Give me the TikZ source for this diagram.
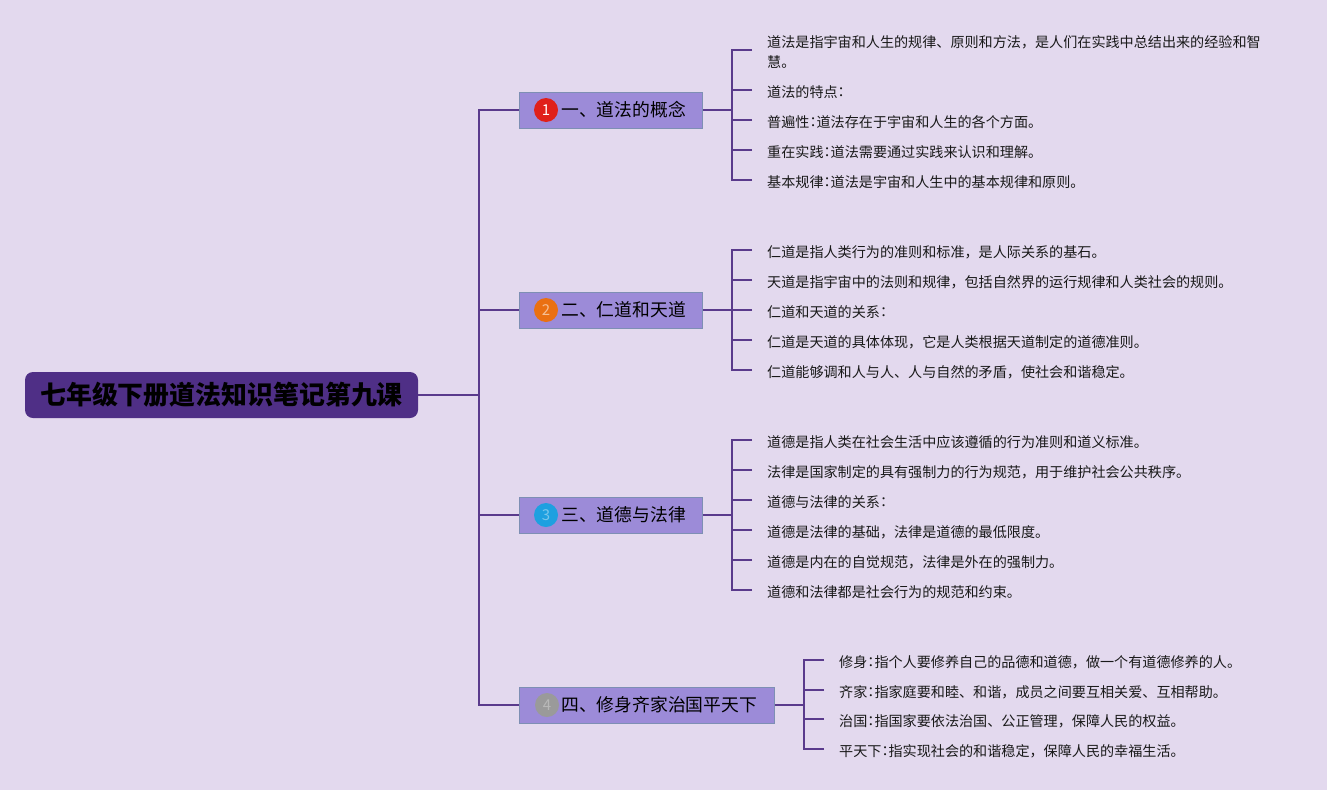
\documentclass[tikz,border=0pt]{standalone}
\usepackage{fontspec}
\setmainfont{Noto Sans CJK SC}
\newfontfamily\tcfont{Noto Sans CJK TC}
\newcommand{\cln}{\kern-3.5pt{\tcfont ：}\kern-3.5pt}
\definecolor{bg}{HTML}{E3D9EE}
\definecolor{ln}{HTML}{5A3A8C}
\definecolor{rootc}{HTML}{4F2F86}
\definecolor{brf}{HTML}{9C8BD8}
\definecolor{brd}{HTML}{7E8FB4}
\definecolor{c1}{HTML}{E0201A}
\definecolor{c2}{HTML}{EA7012}
\definecolor{c3}{HTML}{1EA0E0}
\definecolor{c4}{HTML}{9A9A9A}
\tikzset{
  conn/.style={draw=ln, line width=1.8pt},
  rootbox/.style={fill=rootc, rounded corners=8pt, minimum width=393pt, minimum height=46pt, inner sep=0pt, font=\fontsize{25.9}{30}\selectfont\bfseries, text=black},
  branchbox/.style={fill=brf, draw=brd, line width=0.9pt, minimum height=36pt, inner sep=0pt, anchor=west},
  brtext/.style={anchor=west, inner sep=0pt, font=\fontsize{17.8}{21}\selectfont, text=black},
  numc/.style={circle, minimum size=24pt, inner sep=0pt, font=\fontsize{15}{15}\selectfont},
  leaf/.style={anchor=west, inner sep=0pt, font=\fontsize{14.1}{20}\selectfont, text=black!90, align=left},
}
\begin{document}
\begin{tikzpicture}[x=1pt,y=-1pt]
\fill[bg] (0,0) rectangle (1327,790);
\useasboundingbox (0,0) rectangle (1327,790);

% root
\node[rootbox] (root) at (221.5,395) {七年级下册道法知识笔记第九课};

% branches
\node[branchbox, minimum width=183pt] (b1) at (519,110) {};
\node[branchbox, minimum width=183pt] (b2) at (519,310) {};
\node[branchbox, minimum width=183pt] (b3) at (519,515) {};
\node[branchbox, minimum width=255pt] (b4) at (519,705) {};

\node[numc, fill=c1, text=white] (n1) at (546,110) {1};
\node[numc, fill=c2, text=c2!45!white] (n2) at (546,310) {2};
\node[numc, fill=c3, text=c3!60!white] (n3) at (546,515) {3};
\node[numc, fill=c4, text=c4!70!white] (n4) at (547,705) {4};

\node[brtext] (t1) at (561,110) {一、道法的概念};
\node[brtext] (t2) at (561,310) {二、仁道和天道};
\node[brtext] (t3) at (561,515) {三、道德与法律};
\node[brtext] (t4) at (561,705) {四、修身齐家治国平天下};

% trunk
\coordinate (trunk) at (479,395);
\draw[conn] (root.east) -- (trunk);
\draw[conn] (b1.west) -| (trunk);
\draw[conn] (b4.west) -| (trunk);
\draw[conn] (b2.west) -- (b2.west -| trunk);
\draw[conn] (b3.west) -- (b3.west -| trunk);

% junctions
\coordinate (j1) at (732,110);
\coordinate (j2) at (732,310);
\coordinate (j3) at (732,515);
\coordinate (j4) at (804,705);
\draw[conn] (b1.east) -- (j1);
\draw[conn] (b2.east) -- (j2);
\draw[conn] (b3.east) -- (j3);
\draw[conn] (b4.east) -- (j4);

% leaves branch 1
\node[leaf] (l11) at (767,52) {道法是指宇宙和人生的规律、原则和方法，是人们在实践中总结出来的经验和智\\慧。};
\node[leaf] (l12) at (767,92) {道法的特点\cln};
\node[leaf] (l13) at (767,122) {普遍性\cln 道法存在于宇宙和人生的各个方面。};
\node[leaf] (l14) at (767,152) {重在实践\cln 道法需要通过实践来认识和理解。};
\node[leaf] (l15) at (767,182) {基本规律\cln 道法是宇宙和人生中的基本规律和原则。};
\foreach \l in {l11,l12,l13,l14,l15}
  \draw[conn] ([xshift=-15pt,yshift=2pt]\l.west) -| (j1);

% leaves branch 2
\node[leaf] (l21) at (767,252) {仁道是指人类行为的准则和标准，是人际关系的基石。};
\node[leaf] (l22) at (767,282) {天道是指宇宙中的法则和规律，包括自然界的运行规律和人类社会的规则。};
\node[leaf] (l23) at (767,312) {仁道和天道的关系\cln};
\node[leaf] (l24) at (767,342) {仁道是天道的具体体现，它是人类根据天道制定的道德准则。};
\node[leaf] (l25) at (767,372) {仁道能够调和人与人、人与自然的矛盾，使社会和谐稳定。};
\foreach \l in {l21,l22,l23,l24,l25}
  \draw[conn] ([xshift=-15pt,yshift=2pt]\l.west) -| (j2);

% leaves branch 3
\node[leaf] (l31) at (767,442) {道德是指人类在社会生活中应该遵循的行为准则和道义标准。};
\node[leaf] (l32) at (767,472) {法律是国家制定的具有强制力的行为规范，用于维护社会公共秩序。};
\node[leaf] (l33) at (767,502) {道德与法律的关系\cln};
\node[leaf] (l34) at (767,532) {道德是法律的基础，法律是道德的最低限度。};
\node[leaf] (l35) at (767,562) {道德是内在的自觉规范，法律是外在的强制力。};
\node[leaf] (l36) at (767,592) {道德和法律都是社会行为的规范和约束。};
\foreach \l in {l31,l32,l33,l34,l35,l36}
  \draw[conn] ([xshift=-15pt,yshift=2pt]\l.west) -| (j3);

% leaves branch 4
\node[leaf] (l41) at (839,662) {修身\cln 指个人要修养自己的品德和道德，做一个有道德修养的人。};
\node[leaf] (l42) at (839,692) {齐家\cln 指家庭要和睦、和谐，成员之间要互相关爱、互相帮助。};
\node[leaf] (l43) at (839,721) {治国\cln 指国家要依法治国、公正管理，保障人民的权益。};
\node[leaf] (l44) at (839,751) {平天下\cln 指实现社会的和谐稳定，保障人民的幸福生活。};
\foreach \l in {l41,l42,l43,l44}
  \draw[conn] ([xshift=-15pt,yshift=2pt]\l.west) -| (j4);
\end{tikzpicture}
\end{document}
